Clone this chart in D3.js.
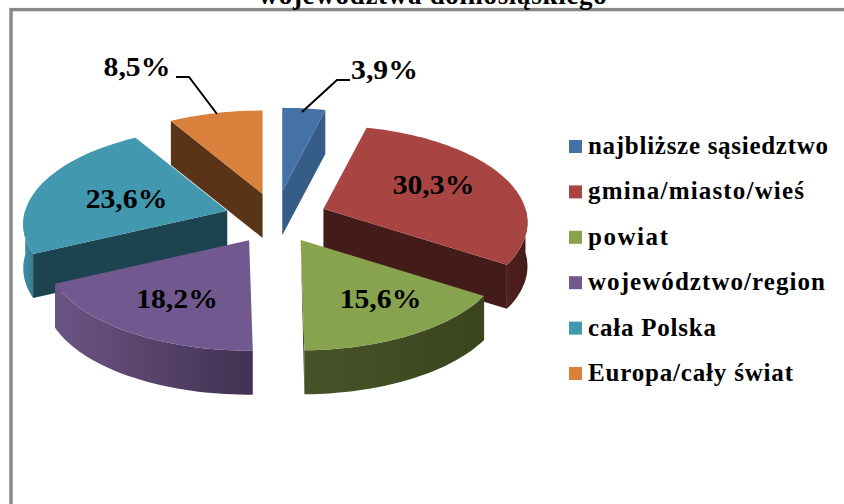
<!DOCTYPE html>
<html><head><meta charset="utf-8">
<script src="https://cdn.jsdelivr.net/npm/d3@7/dist/d3.min.js"></script>
<style>html,body{margin:0;padding:0;background:#fff;overflow:hidden}svg{display:block}
text{font-family:"Liberation Serif","Times New Roman",serif;font-weight:bold;fill:#000}</style>
</head><body><svg id="c" width="844" height="504"></svg>
<script>
const categories = ["najbliższe sąsiedztwo","gmina/miasto/wieś","powiat","województwo/region","cała Polska","Europa/cały świat"];
const values = [3.9,30.3,15.6,18.2,23.6,8.5];
const valueLabels = ["3,9%","30,3%","15,6%","18,2%","23,6%","8,5%"];
const topColors = ["#4472a6","#a84543","#88a34e","#71588f","#4198af","#d9813c"];
const cutColors = ["#365d88","#431b19","#39431c","#3f3050","#1c4350","#5a3416"];
const wallFrom = ["#365d88","#4f201e","#475327","#6c5484","#3f90a9","#5a3416"];
const wallTo   = ["#365d88","#431b19","#3a451e","#413152","#367c93","#5a3416"];
const titleText = "województwa dolnośląskiego";

const svg = d3.select("#c");
const defs = svg.append("defs");
const W = 844, H = 504;

// frame
svg.append("rect").attr("x",11).attr("y",9.6).attr("width",W).attr("height",H)
   .attr("fill","#fff").attr("stroke","#888").attr("stroke-width",3.4);

svg.append("text").attr("x",433).attr("y",4).attr("text-anchor","middle")
   .attr("font-size",27).attr("letter-spacing",0.7).text(titleText);

// pie geometry
const cx = 276, cy = 218, explode = 51, explodeY = 25;
const R = 202, ryUnit = 95, depth = 44, persp = 0.14;
const yNudge = [-2,0,0,1,0,0];
const arcs = d3.pie().sort(null).value(d => d)(values);

function scaleAt(a){ return 1/(1 + persp*Math.cos(a)); }
function rim(apex, a, down){
  const s = scaleAt(a);
  return [apex[0] + R*Math.sin(a)*s,
          apex[1] - ryUnit*Math.cos(a)*s + (down ? depth : 0)];
}
const line = d3.line();
const series = arcs.map((d,i)=>{
  const mid = (d.startAngle+d.endAngle)/2;
  const apex = [cx + explode*Math.sin(mid), cy - explodeY*Math.cos(mid) + yNudge[i]];
  return {i,d,apex};
});
function arcPts(apex,a0,a1,down){
  const n = Math.max(2,Math.ceil((a1-a0)/0.03));
  return d3.range(n+1).map(k=>rim(apex,a0+(a1-a0)*k/n,down));
}
function apexDown(apex){ return [apex[0],apex[1]+depth]; }

// visible faces per slice
const cutFace = {0:"end",1:"end",4:"start",5:"start"};
const wallRange = {1:[Math.PI*0.5,null],2:[null,null],3:[null,null],4:[null,Math.PI*1.5]};

const drawOrder = [5,0,4,1,3,2];
drawOrder.forEach(i=>{
  const {d,apex} = series[i];
  const g = svg.append("g");
  if(wallRange[i]){
    const a0 = wallRange[i][0]===null ? d.startAngle : Math.max(d.startAngle,wallRange[i][0]);
    const a1 = wallRange[i][1]===null ? d.endAngle : Math.min(d.endAngle,wallRange[i][1]);
    const gid = "w"+i;
    const lg = defs.append("linearGradient").attr("id",gid);
    lg.append("stop").attr("offset",0).attr("stop-color", wallFrom[i]);
    lg.append("stop").attr("offset",1).attr("stop-color", wallTo[i]);
    const pts = arcPts(apex,a0,a1,false).concat(arcPts(apex,a0,a1,true).reverse());
    g.append("path").attr("d",line(pts)+"Z").attr("fill",`url(#${gid})`);
  }
  if(cutFace[i]){
    const a = cutFace[i]==="end" ? d.endAngle : d.startAngle;
    const pts = [apex,rim(apex,a,false),rim(apex,a,true),apexDown(apex)];
    g.append("path").attr("d",line(pts)+"Z").attr("fill",cutColors[i]);
  }
  if(i===2){
    const a = d.endAngle;
    g.append("path").attr("d",line([apex,rim(apex,a,false),rim(apex,a,true)])+"Z").attr("fill",cutColors[i]);
  }
  const top = [apex].concat(arcPts(apex,d.startAngle,d.endAngle,false));
  g.append("path").attr("d",line(top)+"Z").attr("fill",topColors[i]);
});

// leader lines
const leaderBlue = [[302,112],[337,80],[350,80]];
const leaderOrange = [[217,114],[189,77],[176,77]];
[leaderBlue,leaderOrange].forEach(p=>svg.append("path").attr("d",line(p))
   .attr("fill","none").attr("stroke","#000").attr("stroke-width",2));

// data labels (slightly wide glyphs, as in the stretched original)
const labelPos = [[384.5,79],[433.5,194],[380.5,308],[177,308],[126.5,208],[137,76]];
valueLabels.forEach((t,i)=>{
  svg.append("text").attr("transform",`translate(${labelPos[i][0]},${labelPos[i][1]}) scale(1.1,1)`)
     .attr("text-anchor","middle").attr("font-size",27).text(t);
});

// legend
const legendY = d3.scalePoint().domain(d3.range(categories.length)).range([146.5,373.5]);
const legendW = [240,216,80,237,128,205];
categories.forEach((c,i)=>{
  const y = legendY(i);
  svg.append("rect").attr("x",569).attr("y",y-6.5).attr("width",13).attr("height",13).attr("fill",topColors[i]);
  svg.append("text").attr("x",588).attr("y",y+7.5).attr("font-size",25)
     .attr("textLength",legendW[i]).attr("lengthAdjust","spacing").text(c);
});
</script></body></html>
